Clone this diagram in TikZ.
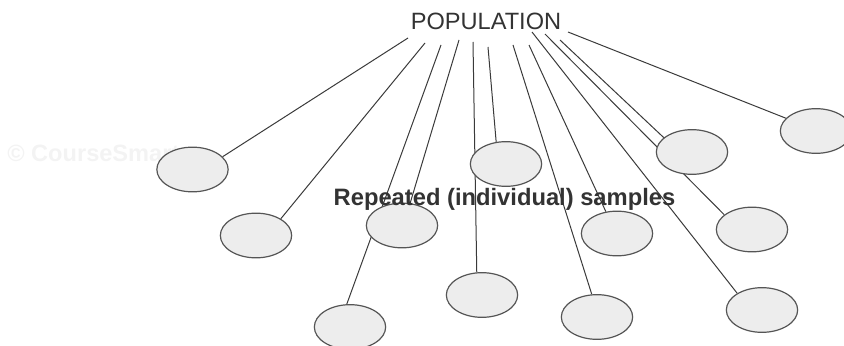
\documentclass[tikz,border=0pt]{standalone}
\usepackage{fontspec}
\setmainfont{Liberation Sans}
\usetikzlibrary{shapes.geometric,backgrounds}
\definecolor{linegray}{HTML}{3A3A3A}
\definecolor{ellfill}{HTML}{EDEDED}
\definecolor{elldraw}{HTML}{555555}
\definecolor{txtgray}{HTML}{333333}
\definecolor{wmark}{HTML}{F3F3F3}
\tikzset{
  sample/.style={ellipse, draw=elldraw, fill=ellfill, line width=0.9pt,
    minimum width=53.5pt, minimum height=33.5pt, inner sep=0pt},
  link/.style={draw=linegray, line width=0.75pt},
  title/.style={font=\fontsize{17.7}{20}\selectfont, text=txtgray, inner sep=0pt, anchor=base},
  caption/.style={font=\fontsize{17.8}{20}\selectfont\bfseries, text=txtgray, inner sep=0pt, anchor=base},
  watermark/.style={font=\fontsize{17.7}{20}\selectfont\bfseries, text=wmark, inner sep=0pt, anchor=base west}
}
\begin{document}
\begin{tikzpicture}[x=0.75pt,y=-0.75pt]
\useasboundingbox (0,0) rectangle (844,346);
% samples
\node[sample] (e1) at (192.5,169.5) {};
\node[sample] (e2) at (256,235.5) {};
\node[sample] (e3) at (350,327) {};
\node[sample] (e4) at (402,225.5) {};
\node[sample] (e5) at (506,164) {};
\node[sample] (e6) at (482,295) {};
\node[sample] (e7) at (617,233.5) {};
\node[sample] (e8) at (597,317) {};
\node[sample] (e9) at (692,152) {};
\node[sample] (e10) at (816,131) {};
\node[sample] (e11) at (752,229.5) {};
\node[sample] (e12) at (762,310) {};
% start points below the title
\coordinate (s1) at (408,38);
\coordinate (s2) at (425,43);
\coordinate (s3) at (441,45);
\coordinate (s4) at (459,40);
\coordinate (s5) at (473,42);
\coordinate (s6) at (488,47);
\coordinate (s7) at (513,45);
\coordinate (s8) at (529,45);
\coordinate (s9) at (532,32);
\coordinate (s10) at (545,34);
\coordinate (s11) at (560,40);
\coordinate (s12) at (568,32);
\begin{pgfonlayer}{background}
\node[watermark] (wm) at (7,162) {© CourseSmart};
\draw[link] (s1) -- (e1.23);
\draw[link] (s2) -- (e2.34);
\draw[link] (s3) -- (e3.98);
\draw[link] (s4) -- (e4.70);
\draw[link] (s5) -- (e6.103);
\draw[link] (s6) -- (e5.114);
\draw[link] (s7) -- (e8.103);
\draw[link] (s8) -- (e7.117);
\draw[link] (s9) -- (e12.146);
\draw[link] (s10) -- (e11.152);
\draw[link] (s11) -- (e9.153);
\draw[link] (s12) -- (e10.157);
\end{pgfonlayer}
\node[title] (pop) at (486,30) {POPULATION};
\node[caption] (rep) at (504.5,205) {Repeated (individual) samples};
\end{tikzpicture}
\end{document}
